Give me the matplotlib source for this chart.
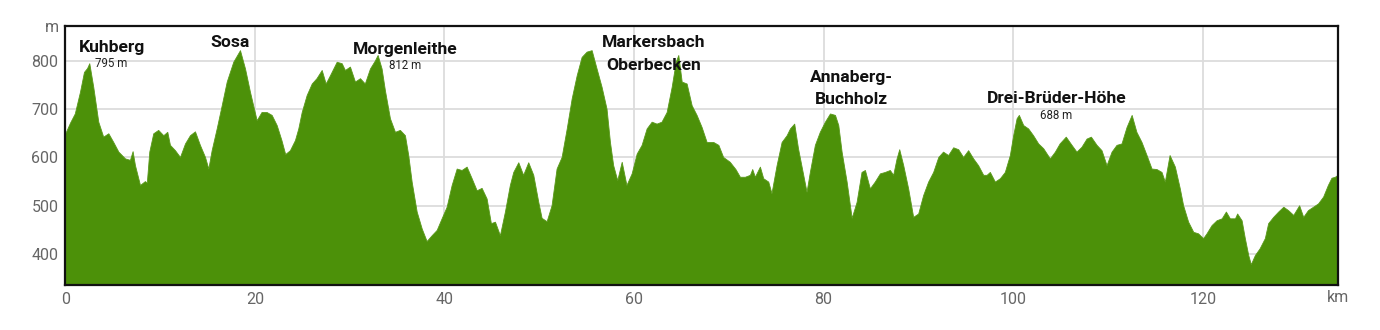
import matplotlib
matplotlib.use("Agg")
import matplotlib.pyplot as plt

plt.rcParams['font.family'] = ['Roboto', 'DejaVu Sans']

# distance along route (km) and elevation (m)
km = [0.0, 0.5, 1.0, 1.55, 1.97, 2.3, 2.53, 2.95, 3.48, 4.0, 4.54, 5.06, 5.6, 6.3, 6.82, 7.1,
      7.35, 7.88, 8.4, 8.6, 8.86, 9.28, 9.8, 10.34, 10.76, 11.04, 11.57, 12.1, 12.63, 13.15,
      13.68, 14.2, 14.74, 15.09, 15.44, 15.97, 16.5, 17.03, 17.72, 18.43, 18.96, 19.48, 20.19,
      20.7, 21.24, 21.77, 22.3, 22.8, 23.2, 23.7, 24.23, 24.58, 24.94, 25.46, 26.0, 26.5,
      27.05, 27.47, 27.92, 28.63, 29.16, 29.5, 30.03, 30.56, 31.09, 31.6, 32.14, 32.67, 32.95,
      33.37, 33.72, 34.25, 34.78, 35.3, 35.83, 36.18, 36.54, 37.07, 37.6, 38.12, 38.65, 39.18,
      39.7, 40.23, 40.76, 41.29, 41.81, 42.34, 42.87, 43.4, 43.92, 44.45, 44.9, 45.33, 45.85,
      46.38, 46.9, 47.26, 47.79, 48.3, 48.84, 49.37, 49.9, 50.25, 50.78, 51.3, 51.83, 52.36,
      52.9, 53.42, 53.95, 54.47, 55.0, 55.53, 56.05, 56.58, 57.1, 57.46, 57.8, 58.23, 58.7,
      59.2, 59.75, 60.28, 60.8, 61.33, 61.86, 62.38, 62.9, 63.44, 63.97, 64.4, 64.67, 65.03,
      65.55, 66.08, 66.6, 67.13, 67.66, 68.36, 68.9, 69.4, 70.1, 70.7, 71.17, 71.7, 72.23,
      72.47, 72.75, 73.28, 73.63, 74.16, 74.5, 75.04, 75.57, 76.1, 76.45, 76.9, 77.3, 77.85,
      78.2, 78.55, 79.08, 79.6, 80.14, 80.67, 81.2, 81.55, 81.9, 82.43, 82.96, 83.48, 84.0,
      84.36, 84.88, 85.4, 85.94, 86.47, 86.99, 87.34, 87.7, 87.98, 88.4, 88.92, 89.45, 89.98,
      90.5, 91.03, 91.56, 92.1, 92.6, 93.14, 93.67, 94.2, 94.72, 95.25, 95.78, 96.3, 96.84,
      97.2, 97.54, 98.07, 98.6, 99.12, 99.65, 100.0, 100.36, 100.6, 101.06, 101.58, 102.1,
      102.64, 103.17, 103.87, 104.4, 104.9, 105.55, 106.16, 106.68, 107.2, 107.74, 108.2,
      108.8, 109.32, 109.85, 110.38, 110.9, 111.43, 111.96, 112.5, 113.0, 113.54, 114.07,
      114.6, 115.12, 115.65, 116.0, 116.5, 117.06, 117.58, 117.93, 118.46, 119.0, 119.5,
      120.04, 120.4, 120.93, 121.46, 122.0, 122.44, 122.86, 123.4, 123.63, 124.1, 124.44,
      124.8, 125.07, 125.5, 126.0, 126.55, 126.9, 127.43, 127.96, 128.5, 129.0, 129.55,
      130.17, 130.6, 131.1, 131.64, 132.17, 132.7, 133.2, 133.58, 133.94, 134.3]
elev = [650, 672, 691, 736, 777, 785, 795, 746, 674, 643, 650, 632, 612, 598, 595, 613,
        584, 543, 551, 548, 612, 650, 657, 646, 653, 626, 615, 601, 629, 646,
        654, 626, 601, 577, 615, 660, 708, 757, 798, 822, 784, 736, 677,
        694, 694, 688, 667, 636, 607, 615, 636, 660, 694, 729, 753, 764,
        781, 753, 770, 798, 795, 781, 788, 757, 764, 753, 784, 801, 812,
        784, 739, 681, 653, 657, 646, 605, 550, 488, 453, 427, 439, 450,
        474, 498, 543, 577, 574, 581, 557, 532, 537, 515, 464, 467, 439,
        488, 543, 570, 590, 564, 590, 564, 508, 475, 468, 501, 577, 601,
        660, 722, 770, 808, 819, 822, 784, 746, 701, 632, 584, 553, 591,
        543, 567, 608, 626, 660, 674, 670, 674, 694, 746, 798, 812, 757,
        753, 708, 688, 663, 632, 632, 626, 601, 591, 576, 560, 560, 564,
        576, 560, 581, 557, 550, 526, 584, 632, 646, 660, 670, 619, 564,
        529, 570, 626, 653, 674, 691, 688, 667, 612, 550, 475, 508, 570,
        574, 536, 550, 567, 570, 574, 564, 598, 617, 584, 536, 477, 484,
        522, 550, 570, 601, 612, 605, 621, 617, 601, 615, 598, 584, 564,
        564, 570, 550, 557, 570, 605, 646, 681, 688, 667, 660, 646,
        629, 619, 598, 612, 629, 643, 626, 612, 622, 639, 643,
        626, 615, 584, 612, 626, 629, 663, 688, 653, 632, 605,
        577, 576, 570, 550, 605, 581, 536, 501, 467, 446, 443,
        433, 443, 460, 470, 474, 488, 474, 474, 484, 470, 433,
        398, 379, 398, 412, 433, 464, 477, 488, 498, 491, 481,
        501, 477, 491, 498, 505, 519, 543, 558, 560, 565]

x_ticks = [0, 20, 40, 60, 80, 100, 120]
y_ticks = [400, 500, 600, 700, 800]

# peak labels: name, km, baseline elevation
peak_names = ["Kuhberg", "Sosa", "Morgenleithe", "Markersbach", "Oberbecken",
              "Annaberg-", "Buchholz", "Drei-Brüder-Höhe"]
peak_x = [4.89, 17.4, 35.9, 62.08, 62.08, 82.95, 82.95, 104.58]
peak_y = [819, 829, 814, 829, 781, 757, 710, 712]
elev_labels = ["795 m", "812 m", "688 m"]
elev_x = [4.89, 35.87, 104.58]
elev_y = [788, 783, 679]

W, H = 1380, 330
fig = plt.figure(figsize=(W / 100, H / 100), dpi=100)
ax = fig.add_axes([65.3 / W, 45 / H, (1338.3 - 65.3) / W, (285 - 26) / H])

ymin, ymax = 336, 872
ax.fill_between(km, elev, ymin, color='#4c9109', lw=0.6, edgecolor='#5a9a1c', zorder=2)
ax.set_xlim(0, 134.3)
ax.set_ylim(ymin, ymax)
ax.set_xticks(x_ticks)
ax.set_yticks(y_ticks)
ax.grid(True, color='#dcdcdc', lw=1.3, zorder=0)
ax.set_axisbelow(True)
ax.tick_params(length=0, labelsize=11.5, labelcolor='#666666', pad=5)
for s in ax.spines.values():
    s.set_linewidth(1.6)
    s.set_color('#111111')
    s.set_zorder(5)

for name, x, y in zip(peak_names, peak_x, peak_y):
    ax.text(x, y, name, ha='center', va='baseline', fontsize=12.6, fontweight='bold',
            color='#111111', zorder=6)
for lab, x, y in zip(elev_labels, elev_x, elev_y):
    ax.text(x, y, lab, ha='center', va='baseline', fontsize=8.3, color='#222222', zorder=6)

fig.text(52 / W, 1 - 27 / H, 'm', ha='center', va='center', fontsize=11.5, color='#666666')
fig.text(1338 / W, 1 - 297.7 / H, 'km', ha='center', va='center', fontsize=11.5, color='#666666')

fig.savefig('out.png', dpi=100)
